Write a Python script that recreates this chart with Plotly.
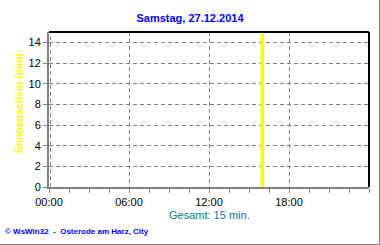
import plotly.graph_objects as go

# data
hours = [16.0]
sunshine_min = [15]
x_tick_vals = [0, 6, 12, 18]
x_tick_text = ["00:00", "06:00", "12:00", "18:00"]
y_tick_vals = [0, 2, 4, 6, 8, 10, 12, 14]
title_text = "Samstag, 27.12.2014"
y_title = "Sonnenschein (min)"
total_text = "Gesamt: 15 min."
footer_text = "© WsWin32  -  Osterode am Harz, City"

FONT = "Liberation Sans, Arial, sans-serif"
L, R, T, B = 49, 11, 32, 58
PW, PH = 380 - L - R, 245 - T - B


def px(xp):
    return (xp - L) / PW


def py(yp):
    return (245 - B - yp) / PH


fig = go.Figure()
fig.add_trace(go.Bar(x=hours, y=sunshine_min, width=0.28,
                     marker=dict(color="#FFFF00", line=dict(width=0))))

fig.update_layout(
    width=380, height=245,
    margin=dict(l=L, r=R, t=T, b=B),
    paper_bgcolor="white", plot_bgcolor="white",
    showlegend=False,
    font=dict(family=FONT, size=11, color="black"),
    title=dict(text=title_text, x=0.5, xanchor="center", y=1 - 18 / 245, yanchor="middle",
               font=dict(family=FONT, size=11, color="#0000FF", weight="bold")),
)
fig.update_xaxes(
    range=[0, 24], tickvals=x_tick_vals, ticktext=x_tick_text,
    showline=True, linecolor="#808080", linewidth=2,
    ticks="outside", ticklen=4, tickcolor="#808080", tickwidth=1,
    minor=dict(dtick=1.5, tick0=0, ticks="outside", ticklen=4, tickcolor="#808080", showgrid=False),
    showgrid=True, gridcolor="#808080", gridwidth=1, griddash="4px,3px",
    zeroline=False, tickfont=dict(size=11, color="black"),
)
fig.update_yaxes(
    range=[0, 15], tickvals=y_tick_vals,
    showline=True, linecolor="#808080", linewidth=2,
    ticks="outside", ticklen=4, tickcolor="#808080", tickwidth=1,
    showgrid=True, gridcolor="#808080", gridwidth=1, griddash="4px,3px",
    zeroline=False, tickfont=dict(size=11, color="black"),
)

# dashed gridline just inside the left axis (00:00)
fig.add_shape(type="line", xref="paper", yref="paper", x0=px(50.5), x1=px(50.5), y0=0, y1=1,
              line=dict(color="#808080", width=1, dash="4px,3px"))
# top and right black border of plot
fig.add_shape(type="line", xref="paper", yref="paper", x0=0, x1=1, y0=1, y1=1,
              line=dict(color="black", width=2))
fig.add_shape(type="line", xref="paper", yref="paper", x0=1, x1=1, y0=0, y1=1,
              line=dict(color="black", width=2))
# outer frame (right and bottom gray)
fig.add_shape(type="line", xref="paper", yref="paper", x0=px(379.5), x1=px(379.5),
              y0=py(245), y1=py(0), line=dict(color="#808080", width=1))
fig.add_shape(type="line", xref="paper", yref="paper", x0=px(0), x1=px(380),
              y0=py(244.5), y1=py(244.5), line=dict(color="#808080", width=1))

fig.add_annotation(text=y_title, xref="paper", yref="paper", x=px(18), y=py(103.5),
                   xanchor="center", yanchor="middle", showarrow=False, textangle=-90,
                   font=dict(family=FONT, size=10.5, color="#FFFF00", weight="bold"))
fig.add_annotation(text=total_text, xref="paper", yref="paper", x=0.5, y=py(215),
                   xanchor="center", yanchor="middle", showarrow=False,
                   font=dict(family=FONT, size=11, color="#008080"))
fig.add_annotation(text=footer_text, xref="paper", yref="paper", x=px(3), y=py(231),
                   xanchor="left", yanchor="middle", showarrow=False,
                   font=dict(family=FONT, size=8, color="#0000FF", weight="bold"))

fig.write_html("out.html")
